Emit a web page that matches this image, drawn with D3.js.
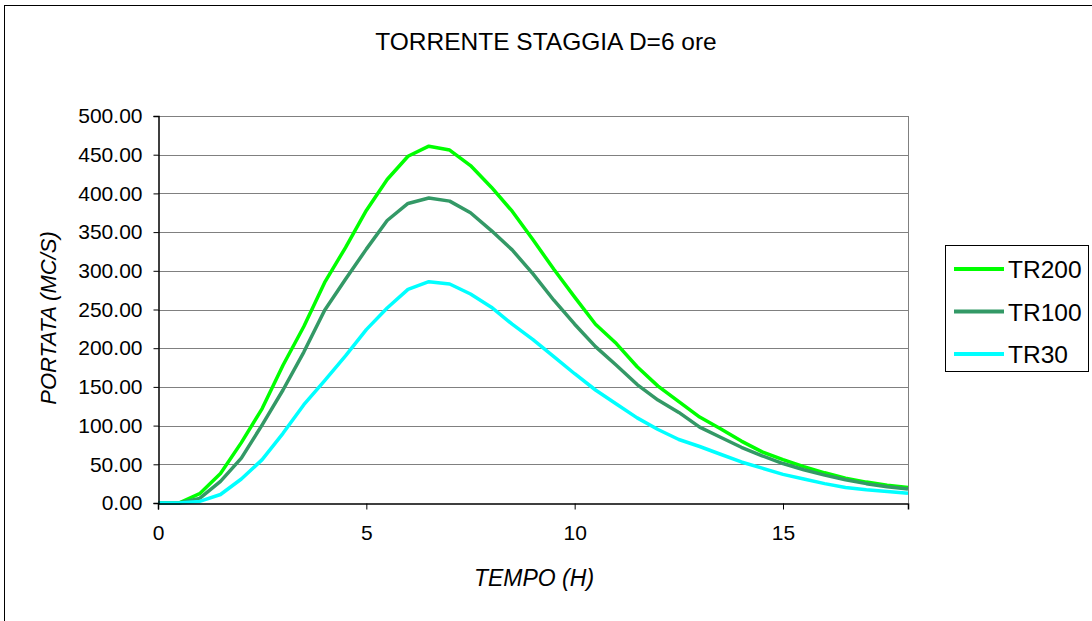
<!DOCTYPE html>
<html>
<head>
<meta charset="utf-8">
<script src="https://cdn.jsdelivr.net/npm/d3@7"></script>
<style>
  body { margin: 0; background: #fff; }
  svg { display: block; font-family: "Liberation Sans", Arial, sans-serif; }
</style>
</head>
<body>
<div id="chart"></div>
<script>
const width = 1092,
  height = 621,
  margin = { top: 116, bottom: 118, left: 158, right: 184 };

// time in hours, every half hour
const tempo = d3.range(0, 18.01, 0.5);

const tr200 = [0, 0, 12, 38, 78, 122, 178, 228, 285, 330, 378, 418, 448, 461, 456, 436, 408, 377, 340,
  302, 266, 231, 206, 176, 151, 131, 111, 96, 80, 66, 56, 47, 39, 32, 27, 23, 20];
const tr100 = [0, 0, 6, 28, 58, 101, 146, 195, 249, 289, 328, 365, 387, 394, 390, 375, 352, 327, 296,
  262, 231, 202, 178, 153, 133, 117, 98, 85, 72, 61, 51, 43, 36, 30, 25, 21, 18];
const tr30 = [0, 0, 2, 11, 31, 56, 90, 127, 158, 190, 224, 252, 276, 286, 283, 270, 253, 231, 211,
  189, 167, 146, 128, 110, 95, 82, 73, 63, 53, 45, 37, 31, 25, 20, 17, 15, 12.5];

const seriesNames = ["TR200", "TR100", "TR30"];
const seriesColors = ["#00ff00", "#339966", "#00ffff"];
const xTicks = [0, 5, 10, 15];
const yTicks = d3.range(0, 501, 50);

const series = [tr200, tr100, tr30].map((vals, i) => ({
  name: seriesNames[i],
  color: seriesColors[i],
  points: vals.map((v, j) => ({ t: tempo[j], q: v })),
}));

const svg = d3.select("#chart")
  .append("svg")
  .attr("width", width)
  .attr("height", height);

// outer chart frame
svg.append("rect")
  .attr("x", 4.5).attr("y", 5.5)
  .attr("width", width + 10).attr("height", height + 10)
  .attr("fill", "#fff")
  .attr("stroke", "#000");

const x = d3.scaleLinear().domain([0, 18]).range([margin.left, width - margin.right]);
const y = d3.scaleLinear().domain([0, 500]).range([height - margin.bottom, margin.top]);

// gridlines
svg.append("g")
  .selectAll("line")
  .data(yTicks.filter(d => d > 0))
  .join("line")
  .attr("x1", x(0)).attr("x2", x(18))
  .attr("y1", d => Math.round(y(d)) + 0.5).attr("y2", d => Math.round(y(d)) + 0.5)
  .attr("stroke", "#808080");

// plot border right
svg.append("line")
  .attr("x1", Math.round(x(18)) + 0.5).attr("x2", Math.round(x(18)) + 0.5)
  .attr("y1", y(500)).attr("y2", y(0))
  .attr("stroke", "#808080");

// series
const line = d3.line().x(d => x(d.t)).y(d => y(d.q));

svg.append("g")
  .selectAll("path")
  .data(series)
  .join("path")
  .attr("d", d => line(d.points))
  .attr("fill", "none")
  .attr("stroke", d => d.color)
  .attr("stroke-width", 3.5)
  .attr("stroke-linejoin", "round");

// axes
const yAxis = svg.append("g")
  .attr("transform", `translate(${Math.round(x(0)) + 0.5},0)`)
  .call(d3.axisLeft(y).tickValues(yTicks).tickFormat(d3.format(".2f")).tickSize(5).tickPadding(11));

const xAxis = svg.append("g")
  .attr("transform", `translate(0,${Math.round(y(0)) + 0.5})`)
  .call(d3.axisBottom(x).tickValues(xTicks).tickFormat(d3.format("d")).tickSize(6).tickPadding(16));

[xAxis, yAxis].forEach(g => {
  g.select(".domain").attr("stroke", "#000").attr("stroke-width", 1.5);
  g.selectAll(".tick line").attr("stroke", "#000");
  g.selectAll("text")
    .attr("fill", "#000")
    .style("font-size", "21px")
    .style("font-family", "Liberation Sans, Arial, sans-serif");
});

// titles
svg.append("text")
  .attr("x", 546).attr("y", 50)
  .attr("text-anchor", "middle")
  .style("font-size", "24.5px")
  .text("TORRENTE STAGGIA D=6 ore");

svg.append("text")
  .attr("x", 534).attr("y", 586)
  .attr("text-anchor", "middle")
  .style("font-size", "23px")
  .style("font-style", "italic")
  .text("TEMPO (H)");

svg.append("text")
  .attr("transform", "translate(56,318) rotate(-90)")
  .attr("text-anchor", "middle")
  .style("font-size", "22px")
  .style("font-style", "italic")
  .text("PORTATA (MC/S)");

// legend
const legend = svg.append("g").attr("transform", "translate(945,245)");

legend.append("rect")
  .attr("x", 0.5).attr("y", 0.5)
  .attr("width", 143).attr("height", 126)
  .attr("fill", "#fff")
  .attr("stroke", "#000");

const item = legend.selectAll("g.item")
  .data(series)
  .join("g")
  .attr("class", "item")
  .attr("transform", (d, i) => `translate(0,${24 + i * 42.5})`);

item.append("line")
  .attr("x1", 9).attr("x2", 59)
  .attr("stroke", d => d.color)
  .attr("stroke-width", 4);

item.append("text")
  .attr("x", 63).attr("y", 9)
  .style("font-size", "24.5px")
  .text(d => d.name);
</script>
</body>
</html>
